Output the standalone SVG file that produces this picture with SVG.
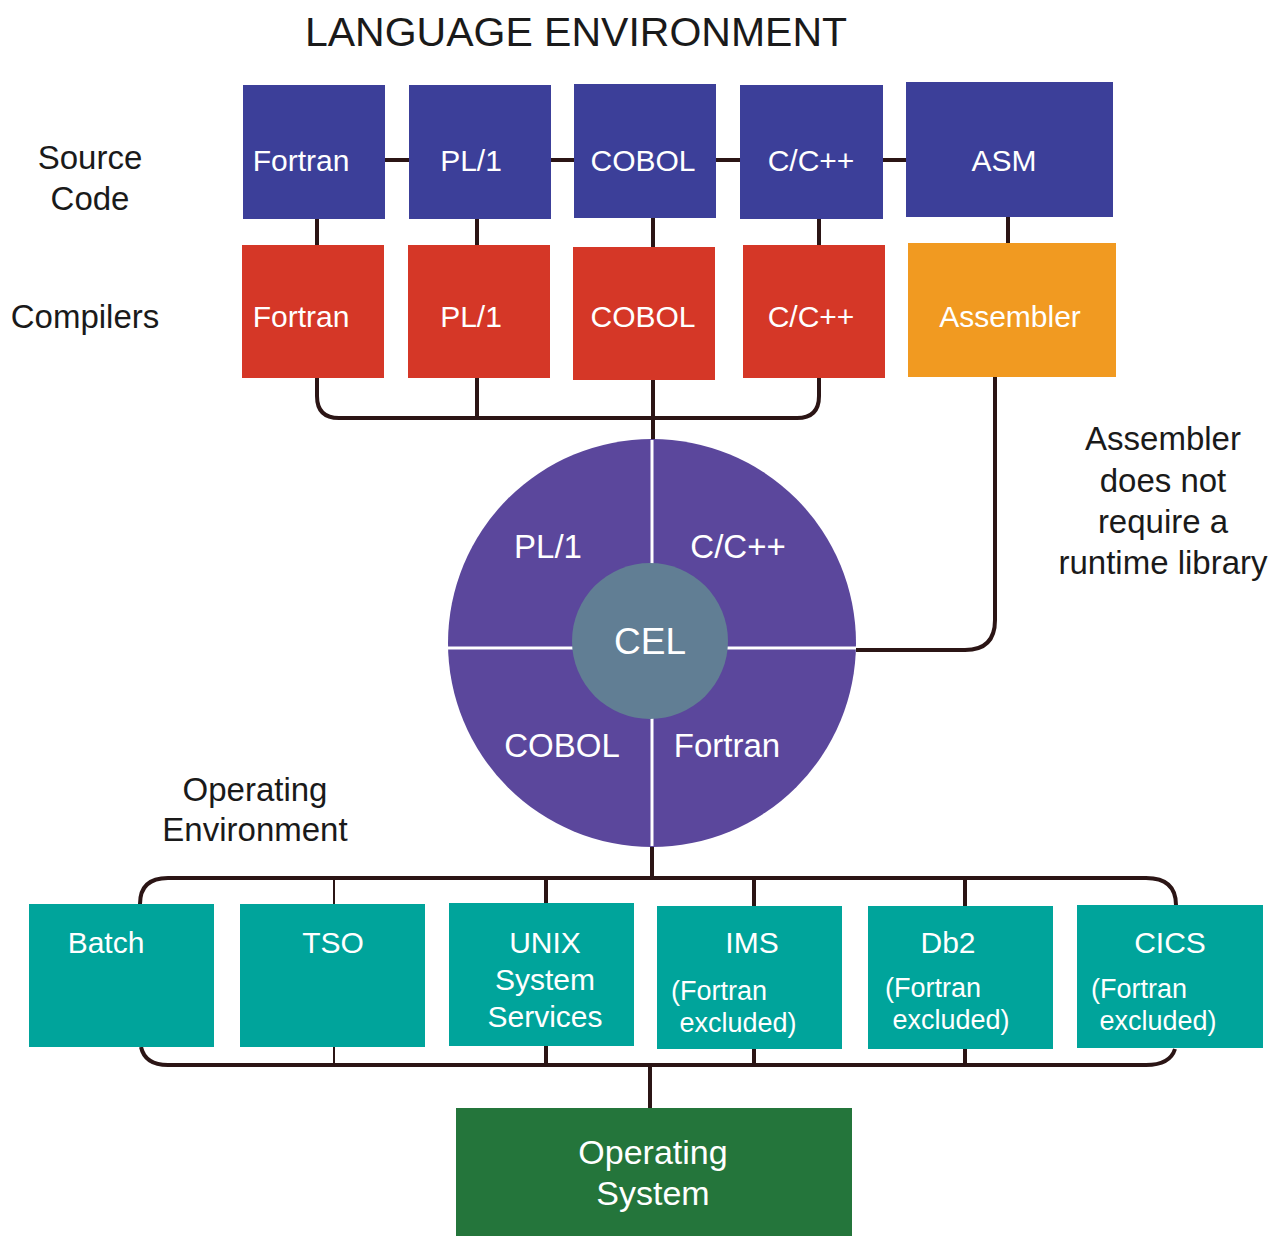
<svg xmlns="http://www.w3.org/2000/svg" width="1286" height="1236" viewBox="0 0 1286 1236">
<style>
text{font-family:"Liberation Sans",Arial,sans-serif;text-anchor:middle;dominant-baseline:central}
.w{fill:#fff}
.k{fill:#1a1a1a}
.src{fill:#3C3F99}
.cmp{fill:#D53727}
.asm{fill:#F19A21}
.env{fill:#00A49B}
.os{fill:#24753B}
.c{fill:none;stroke:#2B1515;stroke-width:4}
.t{fill:none;stroke:#2B1515;stroke-width:2}
.b{font-size:30px}
.s{font-size:27px}
</style>
<rect width="1286" height="1236" fill="#fff"/>
<g id="labels">
<text class="k" x="576" y="32" font-size="41">LANGUAGE ENVIRONMENT</text>
<text class="k" x="90" y="157" font-size="33">Source</text>
<text class="k" x="90" y="198" font-size="33">Code</text>
<text class="k" x="85" y="316" font-size="33">Compilers</text>
<text class="k" x="255" y="789" font-size="33">Operating</text>
<text class="k" x="255" y="829" font-size="33">Environment</text>
<text class="k" x="1163" y="438" font-size="33">Assembler</text>
<text class="k" x="1163" y="480" font-size="33">does not</text>
<text class="k" x="1163" y="521" font-size="33">require a</text>
<text class="k" x="1163" y="562" font-size="33">runtime library</text>
</g>
<g id="connectors">
<path class="c" d="M385,160H409M551,160H574M716,160H740M883,160H906"/>
<path class="c" d="M317,219V245M477,219V245M653,218V247M819,219V245M1008,217V243"/>
<path class="c" d="M317,378V396Q317,418 339,418H797Q819,418 819,396V378M477,378V418M653,380V440"/>
<path class="c" d="M995,377V620Q995,650 965,650H856"/>
<path class="c" d="M652,846V878"/>
<path class="c" d="M140,904Q140,878 168,878H1146Q1176,878 1176,905"/>
<path class="c" d="M141,1047Q145,1065 168,1065H1146Q1170,1065 1175,1049"/>
<path class="t" d="M334,878V904M334,1047V1065"/>
<path class="c" d="M546,878V903M546,1046V1065M754,878V906M754,1049V1065M965,878V906M965,1049V1065"/>
<path class="c" d="M650,1065V1108"/>
</g>
<g id="src-fortran"><rect class="src" x="243" y="85" width="142" height="134"/><text class="w b" x="301" y="160">Fortran</text></g>
<g id="src-pl1"><rect class="src" x="409" y="85" width="142" height="134"/><text class="w b" x="471" y="160">PL/1</text></g>
<g id="src-cobol"><rect class="src" x="574" y="84" width="142" height="134"/><text class="w b" x="643" y="160">COBOL</text></g>
<g id="src-cpp"><rect class="src" x="740" y="85" width="143" height="134"/><text class="w b" x="811" y="160">C/C++</text></g>
<g id="src-asm"><rect class="src" x="906" y="82" width="207" height="135"/><text class="w b" x="1004" y="160">ASM</text></g>
<g id="cmp-fortran"><rect class="cmp" x="242" y="245" width="142" height="133"/><text class="w b" x="301" y="316">Fortran</text></g>
<g id="cmp-pl1"><rect class="cmp" x="408" y="245" width="142" height="133"/><text class="w b" x="471" y="316">PL/1</text></g>
<g id="cmp-cobol"><rect class="cmp" x="573" y="247" width="142" height="133"/><text class="w b" x="643" y="316">COBOL</text></g>
<g id="cmp-cpp"><rect class="cmp" x="743" y="245" width="142" height="133"/><text class="w b" x="811" y="316">C/C++</text></g>
<g id="cmp-asm"><rect class="asm" x="908" y="243" width="208" height="134"/><text class="w b" x="1010" y="316">Assembler</text></g>
<g id="runtime">
<circle cx="652" cy="643" r="204" fill="#5B479C"/>
<path d="M652,440V846M448,648H856" stroke="#fff" stroke-width="3" fill="none"/>
<circle cx="650" cy="641" r="78" fill="#617E94"/>
<text class="w" x="548" y="546" font-size="33">PL/1</text>
<text class="w" x="738" y="546" font-size="33">C/C++</text>
<text class="w" x="562" y="745" font-size="33">COBOL</text>
<text class="w" x="727" y="745" font-size="33">Fortran</text>
<text class="w" x="650" y="641" font-size="37">CEL</text>
</g>
<g id="env-batch"><rect class="env" x="29" y="904" width="185" height="143"/><text class="w b" x="106" y="942">Batch</text></g>
<g id="env-tso"><rect class="env" x="240" y="904" width="185" height="143"/><text class="w b" x="333" y="942">TSO</text></g>
<g id="env-unix"><rect class="env" x="449" y="903" width="185" height="143"/><text class="w b" x="545" y="942">UNIX</text><text class="w b" x="545" y="979">System</text><text class="w b" x="545" y="1016">Services</text></g>
<g id="env-ims"><rect class="env" x="657" y="906" width="185" height="143"/><text class="w b" x="752" y="942">IMS</text><text class="w s" x="719" y="991">(Fortran</text><text class="w s" x="738" y="1023">excluded)</text></g>
<g id="env-db2"><rect class="env" x="868" y="906" width="185" height="143"/><text class="w b" x="948" y="942">Db2</text><text class="w s" x="933" y="988">(Fortran</text><text class="w s" x="951" y="1020">excluded)</text></g>
<g id="env-cics"><rect class="env" x="1077" y="905" width="186" height="143"/><text class="w b" x="1170" y="942">CICS</text><text class="w s" x="1139" y="989">(Fortran</text><text class="w s" x="1158" y="1021">excluded)</text></g>
<g id="os"><rect class="os" x="456" y="1108" width="396" height="128"/><text class="w" x="653" y="1152" font-size="34">Operating</text><text class="w" x="653" y="1193" font-size="34">System</text></g>
</svg>
